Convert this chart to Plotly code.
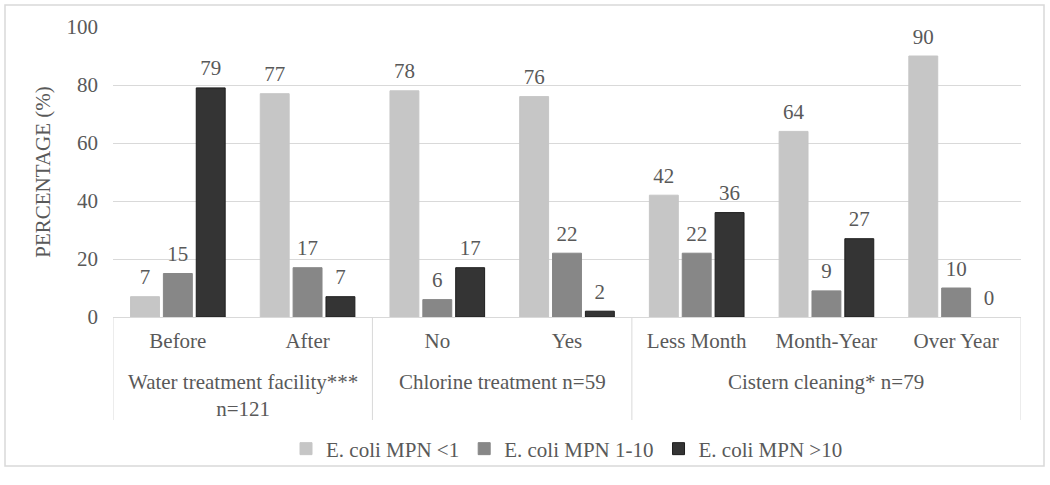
import plotly.graph_objects as go

group_names = ["Water treatment facility***<br>n=121", "Chlorine treatment n=59", "Cistern cleaning* n=79"]
group_sizes = [2, 2, 3]
categories = ["Before", "After", "No", "Yes", "Less Month", "Month-Year", "Over Year"]
mpn_lt1 = [7, 77, 78, 76, 42, 64, 90]
mpn_1_10 = [15, 17, 6, 22, 22, 9, 10]
mpn_gt10 = [79, 7, 17, 2, 36, 27, 0]
series_names = ["E. coli MPN <1", "E. coli MPN 1-10", "E. coli MPN >10"]
colors = ["#C6C6C6", "#878787", "#343434"]
line_colors = ["#C6C6C6", "#878787", "#1E1E1E"]

FONT = "Liberation Serif"
TXT = "#595959"
FS = 21

fig = go.Figure()
for i, (name, vals, c, lc) in enumerate(zip(series_names, [mpn_lt1, mpn_1_10, mpn_gt10], colors, line_colors)):
    fig.add_trace(go.Bar(
        x=categories, y=vals, name=name, offsetgroup=str(i),
        marker=dict(color=c, line=dict(color=lc, width=[1 if v > 0 else 0 for v in vals])),
    ))
for i, vals in enumerate([mpn_lt1, mpn_1_10, mpn_gt10]):
    fig.add_trace(go.Scatter(
        x=categories, y=vals, mode="markers+text", offsetgroup=str(i), showlegend=False,
        text=[str(v) for v in vals], textposition="top center",
        marker=dict(size=10, color="rgba(0,0,0,0)", line=dict(width=0)),
        textfont=dict(family=FONT, size=FS, color=TXT), cliponaxis=False, hoverinfo="skip",
    ))

W, H = 1050, 485
L, R, T, B = 113, 29, 27, 168
pw, ph = W - L - R, H - T - B

def px_x(x):
    return (x - L) / pw

def px_y(y):
    return (T + ph - y) / ph

shapes = [dict(type="rect", xref="paper", yref="paper", x0=px_x(5), x1=px_x(1044), y0=px_y(466), y1=px_y(5),
               line=dict(color="#D9D9D9", width=1.5), layer="below")]
annotations = []
start = 0
bounds = [-0.5]
for gname, gs in zip(group_names, group_sizes):
    annotations.append(dict(xref="x", yref="paper", x=start + (gs - 1) / 2, y=px_y(368),
                            yanchor="top", xanchor="center", showarrow=False, text=gname,
                            font=dict(family=FONT, size=FS, color=TXT)))
    start += gs
    bounds.append(start - 0.5)
for b in bounds:
    shapes.append(dict(type="line", xref="x", yref="paper", x0=b, x1=b, y0=0, y1=px_y(420),
                       line=dict(color="#D9D9D9", width=1)))

fig.update_layout(
    width=W, height=H,
    margin=dict(l=L, r=R, t=T, b=B),
    paper_bgcolor="white", plot_bgcolor="white",
    barmode="group", bargap=0.24, bargroupgap=0.12, scattermode="group",
    font=dict(family=FONT, size=FS, color=TXT),
    showlegend=True,
    legend=dict(orientation="h", x=0.5, xanchor="center", y=px_y(449), yanchor="middle",
                bgcolor="rgba(0,0,0,0)",
                font=dict(family=FONT, size=FS, color=TXT), itemwidth=30, tracegroupgap=0),
    xaxis=dict(type="category", showline=True, linecolor="#D9D9D9", linewidth=1, automargin=False,
               range=[-0.5, len(categories) - 0.5], ticklabelstandoff=5,
               tickfont=dict(family=FONT, size=FS, color=TXT), ticks=""),
    yaxis=dict(range=[0, 100], dtick=20, showgrid=True, gridcolor="#D9D9D9", gridwidth=1, automargin=False,
               zeroline=False, ticks="", ticklabelstandoff=14, tickfont=dict(family=FONT, size=FS, color=TXT),
               title=dict(text="PERCENTAGE (%)", font=dict(family=FONT, size=FS, color=TXT), standoff=10)),
    shapes=shapes,
    annotations=annotations,
)

fig.write_html("out.html", config={"displayModeBar": False},
               post_script="document.body.style.margin='0';")
